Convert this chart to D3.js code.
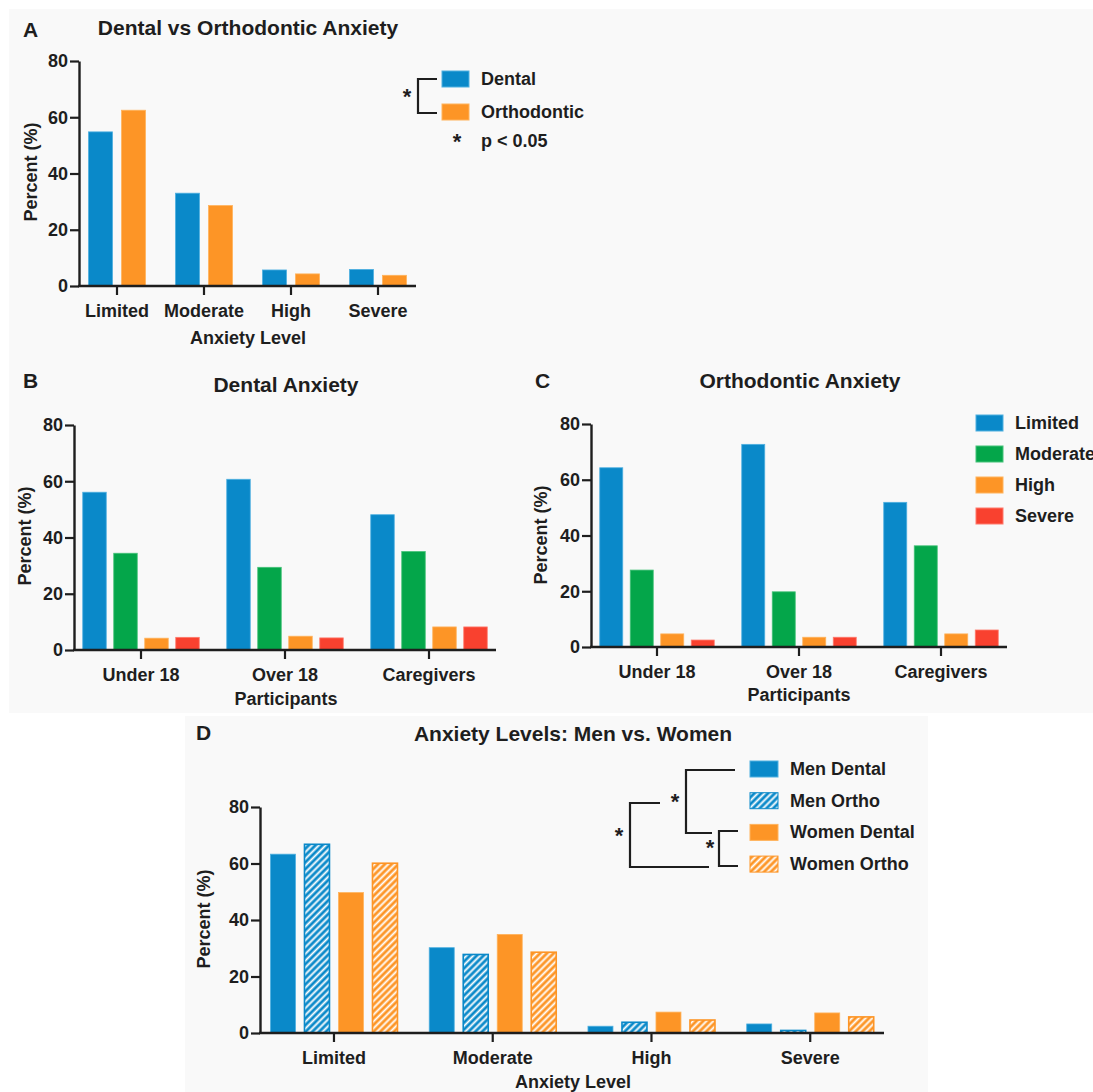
<!DOCTYPE html>
<html>
<head>
<meta charset="utf-8">
<script src="https://cdn.jsdelivr.net/npm/d3@7"></script>
<style>
  body { margin: 0; background: #fff; }
  svg { display: block; font-family: "Liberation Sans", Arial, sans-serif; font-weight: bold; }
</style>
</head>
<body>
<svg id="chart" width="1093" height="1092"></svg>
<script>
// ---- data ----
const levels = ["Limited", "Moderate", "High", "Severe"];
const groups = ["Under 18", "Over 18", "Caregivers"];
const yTicks = [0, 20, 40, 60, 80];

// A: dental vs orthodontic
const aSeries = ["Dental", "Orthodontic"];
const aDental = [54.8, 33.0, 5.7, 5.9];
const aOrtho = [62.5, 28.6, 4.3, 3.8];

// B: dental anxiety by participant group
const bcSeries = ["Limited", "Moderate", "High", "Severe"];
const bLimited = [56.1, 60.7, 48.1];
const bModerate = [34.4, 29.4, 35.0];
const bHigh = [4.2, 4.9, 8.2];
const bSevere = [4.5, 4.3, 8.2];

// C: orthodontic anxiety by participant group
const cLimited = [64.3, 72.7, 51.9];
const cModerate = [27.6, 19.8, 36.3];
const cHigh = [4.7, 3.5, 4.7];
const cSevere = [2.5, 3.5, 6.1];

// D: men vs women
const dSeries = ["Men Dental", "Men Ortho", "Women Dental", "Women Ortho"];
const dMenDental = [63.3, 30.2, 2.4, 3.2];
const dMenOrtho = [66.8, 27.8, 3.8, 0.9];
const dWomenDental = [49.7, 34.9, 7.4, 7.1];
const dWomenOrtho = [60.1, 28.6, 4.6, 5.7];

const BLUE = "#0a89c9", GREEN = "#04a64a", ORANGE = "#fd9526", RED = "#f9412f";
const INK = "#1e1e1e";

const svg = d3.select("#chart");

// panel backgrounds
svg.append("rect").attr("x", 9).attr("y", 9).attr("width", 1084).attr("height", 704).attr("fill", "#f9f9f9");
svg.append("rect").attr("x", 185).attr("y", 716).attr("width", 743).attr("height", 376).attr("fill", "#f9f9f9");

// hatch patterns
const defs = svg.append("defs");
function hatch(id, color) {
  const p = defs.append("pattern").attr("id", id)
    .attr("patternUnits", "userSpaceOnUse")
    .attr("width", 4.8).attr("height", 4.8)
    .attr("patternTransform", "rotate(45)");
  p.append("rect").attr("width", 4.8).attr("height", 4.8).attr("fill", color);
  p.append("line").attr("x1", 2.4).attr("x2", 2.4).attr("y1", -1).attr("y2", 6)
    .attr("stroke", "#fff").attr("stroke-width", 1.9);
}
hatch("hatchBlue", BLUE);
hatch("hatchOrange", ORANGE);

function text(x, y, str, size, anchor) {
  return svg.append("text").attr("x", x).attr("y", y)
    .attr("font-size", size).attr("text-anchor", anchor || "start")
    .attr("fill", INK).text(str);
}

// generic grouped bar panel
function panel(o) {
  const x = d3.scaleBand().domain(o.cats).range(o.xRange);
  const y = d3.scaleLinear().domain([0, 80]).range([o.y0, o.y1]);
  const n = o.series.length;
  const inner = (n - 1) * o.step + o.barW;
  const x1 = d3.scaleBand().domain(o.series)
    .range([-inner / 2, inner / 2])
    .paddingInner((o.step - o.barW) / o.step);

  const g = svg.append("g");
  o.series.forEach((s, si) => {
    g.selectAll(null).data(o.values[si]).enter().append("rect")
      .attr("x", (d, i) => x(o.cats[i]) + x.bandwidth() / 2 + x1(s))
      .attr("y", d => y(d))
      .attr("width", x1.bandwidth())
      .attr("height", d => y(0) - y(d))
      .attr("fill", o.fills[si])
      .attr("stroke", o.strokes[si])
      .attr("stroke-width", o.hatched && o.hatched[si] ? 1.6 : 0.8);
  });

  // y axis
  const ya = g.append("g").attr("transform", `translate(${o.axisX},0)`)
    .call(d3.axisLeft(y).tickValues(yTicks).tickSize(9).tickSizeOuter(0));
  ya.select(".domain").attr("stroke", INK).attr("stroke-width", 2.4);
  ya.selectAll(".tick line").attr("stroke", INK).attr("stroke-width", 2.2);
  ya.selectAll(".tick text").attr("font-size", 18).attr("font-family", null)
    .attr("fill", INK).attr("x", -11);

  // x axis
  const xa = g.append("g").attr("transform", `translate(0,${o.y0})`)
    .call(d3.axisBottom(x).tickSize(9).tickSizeOuter(0));
  xa.select(".domain").remove();
  xa.append("line").attr("x1", o.axisX - 1).attr("x2", o.xEnd)
    .attr("stroke", INK).attr("stroke-width", 2.4);
  xa.selectAll(".tick line").attr("stroke", INK).attr("stroke-width", 2.2);
  xa.selectAll(".tick text").attr("font-size", 18).attr("font-family", null)
    .attr("fill", INK).attr("y", 18).attr("dy", "0.71em");

  // titles
  text(o.letter[1], o.letter[2], o.letter[0], 21);
  text(o.title[1], o.title[2], o.title[0], 21, "middle");
  text(o.xTitle[1], o.xTitle[2], o.xTitle[0], 18, "middle");
  svg.append("text").attr("transform", `translate(${o.yTitle[0]},${o.yTitle[1]}) rotate(-90)`)
    .attr("text-anchor", "middle").attr("dominant-baseline", "central")
    .attr("font-size", 18).attr("fill", INK).text("Percent (%)");
}

panel({
  cats: levels, series: aSeries, values: [aDental, aOrtho],
  fills: [BLUE, ORANGE], strokes: ["#4fb0e0", "#ffb35c"],
  xRange: [73.5, 421.5], axisX: 79, xEnd: 416, y0: 286, y1: 61, barW: 24, step: 33,
  letter: ["A", 23, 37], title: ["Dental vs Orthodontic Anxiety", 248, 35],
  xTitle: ["Anxiety Level", 248, 344], yTitle: [31, 172]
});

panel({
  cats: groups, series: bcSeries, values: [bLimited, bModerate, bHigh, bSevere],
  fills: [BLUE, GREEN, ORANGE, RED], strokes: ["#4fb0e0", "#45c278", "#ffb35c", "#ff7a6c"],
  xRange: [69, 501], axisX: 74, xEnd: 496, y0: 650, y1: 425, barW: 23.5, step: 31,
  letter: ["B", 23, 388], title: ["Dental Anxiety", 286, 392],
  xTitle: ["Participants", 286, 705], yTitle: [25, 536]
});

panel({
  cats: groups, series: bcSeries, values: [cLimited, cModerate, cHigh, cSevere],
  fills: [BLUE, GREEN, ORANGE, RED], strokes: ["#4fb0e0", "#45c278", "#ffb35c", "#ff7a6c"],
  xRange: [586, 1012], axisX: 591, xEnd: 1007, y0: 647, y1: 424, barW: 23, step: 30.5,
  letter: ["C", 535, 388], title: ["Orthodontic Anxiety", 800, 388],
  xTitle: ["Participants", 799, 701], yTitle: [541, 535]
});

panel({
  cats: levels, series: dSeries, values: [dMenDental, dMenOrtho, dWomenDental, dWomenOrtho],
  fills: [BLUE, "url(#hatchBlue)", ORANGE, "url(#hatchOrange)"],
  strokes: ["#4fb0e0", BLUE, "#ffb35c", ORANGE], hatched: [false, true, false, true],
  xRange: [254.6, 889.6], axisX: 260, xEnd: 884, y0: 1033, y1: 807, barW: 25, step: 34,
  letter: ["D", 196, 740], title: ["Anxiety Levels: Men vs. Women", 573, 741],
  xTitle: ["Anxiety Level", 573, 1088], yTitle: [204, 919]
});

// ---- legends ----
function legend(names, fills, strokes, x, yc, step, w, h) {
  names.forEach((nm, i) => {
    svg.append("rect").attr("x", x).attr("y", yc + i * step - h / 2)
      .attr("width", w).attr("height", h).attr("fill", fills[i])
      .attr("stroke", strokes[i]).attr("stroke-width", 1);
    svg.append("text").attr("x", x + w + 12).attr("y", yc + i * step)
      .attr("dominant-baseline", "central").attr("font-size", 18)
      .attr("fill", INK).text(nm);
  });
}
function bracket(pts) {
  svg.append("path").attr("d", d3.line()(pts)).attr("fill", "none")
    .attr("stroke", INK).attr("stroke-width", 2.2);
}
function star(x, y) {
  svg.append("text").attr("x", x).attr("y", y + 9).attr("text-anchor", "middle")
    .attr("font-size", 22).attr("fill", INK).text("*");
}

// A legend
legend(aSeries, [BLUE, ORANGE], ["#4fb0e0", "#ffb35c"], 442, 79, 33, 27, 16);
bracket([[437, 79], [418, 79], [418, 113], [437, 113]]);
star(407, 95);
star(457, 140);
text(481, 147, "p < 0.05", 18);

// C legend (the last label runs off the right edge, as in the source figure)
legend(bcSeries, [BLUE, GREEN, ORANGE, RED], ["#4fb0e0", "#45c278", "#ffb35c", "#ff7a6c"], 976, 423, 31, 27, 16);

// D legend
legend(dSeries, [BLUE, "url(#hatchBlue)", ORANGE, "url(#hatchOrange)"],
  ["#4fb0e0", BLUE, "#ffb35c", ORANGE], 750, 769, 31.7, 28, 16);
bracket([[735, 770], [686, 770], [686, 833], [712, 833]]);
star(675, 800);
bracket([[738, 831], [719, 831], [719, 866], [738, 866]]);
star(710, 846);
bracket([[660, 803], [630, 803], [630, 867], [709, 867]]);
star(619, 834);
</script>
</body>
</html>
